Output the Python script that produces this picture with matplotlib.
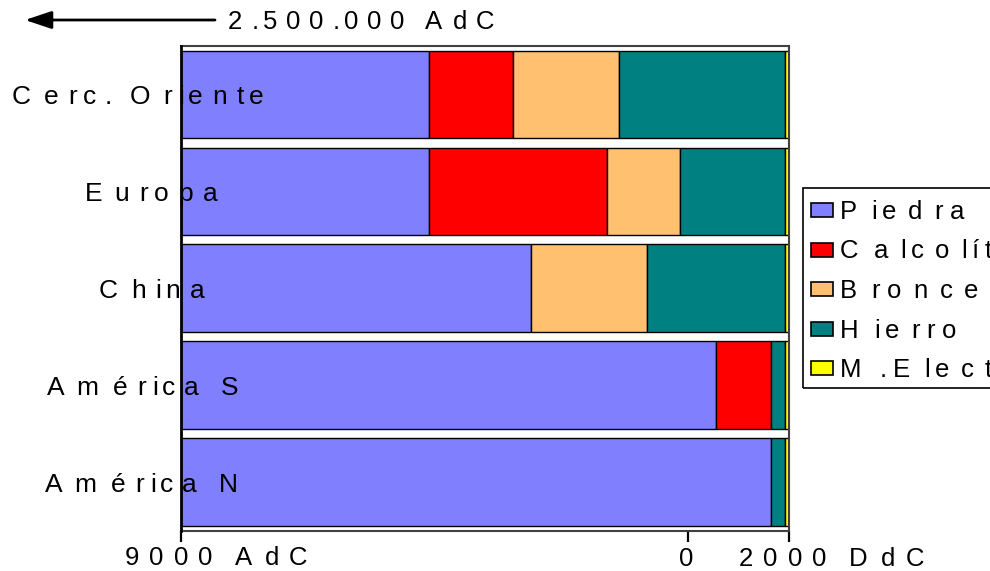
import matplotlib
matplotlib.use("Agg")
import matplotlib.pyplot as plt
from matplotlib.font_manager import FontProperties, findfont, get_font
from matplotlib.patches import Rectangle
from matplotlib.transforms import IdentityTransform

# datos: fin de cada periodo (años, negativo = AdC)
regiones = ["Cerc. Oriente", "Europa", "China", "América S", "América N"]
periodos = ["Piedra", "Calcolítico", "Bronce", "Hierro", "M.Electr."]
colores = ["#8080FF", "#FF0000", "#FFC06F", "#008080", "#FFFF00"]
inicio_eje = -10000
fin_piedra = [-5100, -5100, -3100, 550, 1650]
fin_calcolitico = [-3450, -1600, -3100, 1650, 1650]
fin_bronce = [-1350, -150, -800, 1650, 1650]
fin_hierro = [1930, 1930, 1930, 1930, 1930]
fin_electrica = [2000, 2000, 2000, 2000, 2000]
ticks = [-10000, 0, 2000]

W, H = 990, 571
FAMILIA = "Liberation Sans"
fuente = get_font(findfont(FontProperties(family=FAMILIA)))


def texto(fig, x, y, s, size=18.5, paso=31.7):
    # letras de tamaño "size" colocadas con el avance de una fuente mayor
    # x, y en pixeles desde arriba a la izquierda (y = linea base)
    for ch in s:
        fig.text(x, H - y, ch, fontsize=size, family=FAMILIA,
                 transform=IdentityTransform(), va="baseline", ha="left")
        fuente.set_size(paso, 100)
        g = fuente.load_char(ord(ch))
        x += g.linearHoriAdvance / 65536


def main():
    fig = plt.figure(figsize=(W / 100, H / 100), dpi=100)
    ax = fig.add_axes([181 / W, 1 - 530.5 / H, 608 / W, 484.8 / H])

    fines = [fin_piedra, fin_calcolitico, fin_bronce, fin_hierro, fin_electrica]
    for i in range(len(regiones)):
        izq = inicio_eje
        for k, fin in enumerate(fines):
            ancho = fin[i] - izq
            if ancho > 0:
                ax.barh(i, ancho, left=izq, height=0.9, color=colores[k],
                        edgecolor="black", linewidth=1.0)
            izq = max(izq, fin[i])

    ax.set_xlim(inicio_eje, 2000)
    ax.set_ylim(4.5, -0.5)
    ax.set_yticks([])
    ax.set_xticks(ticks)
    ax.set_xticklabels([])
    ax.tick_params(axis="x", length=8, width=1.6, direction="out")
    for lado in ["top", "right", "bottom"]:
        ax.spines[lado].set_color("#404040")
        ax.spines[lado].set_linewidth(1.5)
    ax.spines["left"].set_linewidth(2)
    ax.spines["left"].set_zorder(5)

    # etiquetas de regiones
    inicios_x = [12, 85, 99, 47, 45]
    for i, reg in enumerate(regiones):
        y = H - ax.transData.transform((0, i))[1] + 10
        texto(fig, inicios_x[i], y, reg, size=19)

    # flecha superior
    plt.annotate("", xy=(25, H - 20), xytext=(215, H - 20),
                 xycoords="figure pixels", textcoords="figure pixels",
                 arrowprops=dict(arrowstyle="-|>,head_length=0.9,head_width=0.3",
                                 lw=2, color="black", mutation_scale=18,
                                 shrinkA=0, shrinkB=0))
    texto(fig, 228, 29, "2.500.000 AdC", paso=30)

    # etiquetas del eje x
    texto(fig, 125, 565, "9000 AdC")
    texto(fig, 679, 566, "0")
    texto(fig, 739, 566, "2000 DdC")

    # leyenda
    fig.patches.append(Rectangle((803, H - 388), 300, 200, transform=IdentityTransform(),
                                 fill=False, edgecolor="black", linewidth=1.2))
    for k, per in enumerate(periodos):
        yc = 210 + k * 39.5
        fig.patches.append(Rectangle((811, H - yc - 7), 22, 14, transform=IdentityTransform(),
                                     facecolor=colores[k], edgecolor="black", linewidth=1.2))
        texto(fig, 840, yc + 9, per, paso=34)

    fig.savefig("out.png", dpi=100)
    plt.close(fig)


if __name__ == "__main__":
    main()
